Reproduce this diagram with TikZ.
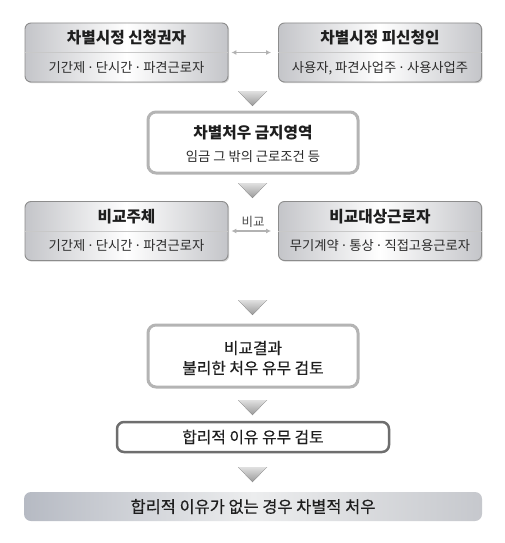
\documentclass[tikz,border=0pt]{standalone}
\usepackage{fontspec}
\setmainfont{Noto Sans CJK KR}
\newfontfamily\medfont{Noto Sans CJK KR}[FakeBold=0.5]
\usetikzlibrary{shadows,arrows.meta}
\newcommand{\mdt}{\hspace{0.12em}·\hspace{0.12em}}
\definecolor{txt}{HTML}{1E1E1E}
\definecolor{subtxt}{HTML}{2A2A2A}
\definecolor{boxline}{HTML}{8C8C8C}
\definecolor{edgegray}{HTML}{C4C5C9}
\definecolor{divline}{HTML}{C8C8C8}
\definecolor{lightframe}{HTML}{B4B4B4}
\definecolor{darkframe}{HTML}{6E6E6E}
\definecolor{arrgray}{HTML}{B2B2B2}
\definecolor{barleft}{HTML}{B6BAC3}
\definecolor{barmid}{HTML}{ECEDEE}
\definecolor{barright}{HTML}{C6C8CD}
\begin{document}
\begin{tikzpicture}[x=1pt,y=-1pt,
  gbox/.style={draw=boxline, line width=0.9pt, rounded corners=6pt,
    left color=edgegray, right color=edgegray, middle color=white,
    minimum width=203pt, minimum height=59pt, inner sep=0pt,
    drop shadow={shadow xshift=1.2pt, shadow yshift=-1.2pt, opacity=0.35}},
  obox/.style={draw=lightframe, line width=3pt, rounded corners=8pt, fill=white,
    minimum width=210pt, inner sep=0pt},
  rbox/.style={draw=darkframe, line width=2.5pt, rounded corners=7pt, fill=white,
    minimum width=272pt, minimum height=30pt, inner sep=0pt},
  bar/.style={rounded corners=7pt, left color=barleft, right color=barright, middle color=barmid,
    minimum width=458pt, minimum height=29pt, inner sep=0pt},
  ttl/.style={text=txt, font=\fontsize{15.7}{18}\selectfont\bfseries, inner sep=0pt},
  sub/.style={text=subtxt, font=\fontsize{13.3}{15}\selectfont, inner sep=0pt},
  big/.style={text=txt, font=\medfont\fontsize{15.8}{20}\selectfont, align=center, inner sep=0pt},
  bigger/.style={text=txt, font=\medfont\fontsize{16.4}{20}\selectfont, inner sep=0pt},
  div/.style={draw=divline, line width=0.8pt},
  darr/.style={draw=arrgray, line width=1.3pt, {Latex[length=5pt,width=5pt]}-{Latex[length=5pt,width=5pt]}, shorten <=3pt, shorten >=7pt},
  tri/.style={top color=black!12, bottom color=black!40, draw=none},
  cmp/.style={text=black!70, font=\fontsize{12.5}{14}\selectfont, inner sep=0pt}
]
\useasboundingbox[fill=white] (0,0) rectangle (504,543);

% row 1
\node[gbox] (a) at (126.5,52.5) {};
\node[gbox] (b) at (380,52.5) {};
\draw[div] (a.west) -- (a.east);
\draw[div] (b.west) -- (b.east);
\node[ttl] (at) at (126.5,38) {차별시정 신청권자};
\node[sub] (as) at (126.5,68) {기간제\mdt 단시간\mdt 파견근로자};
\node[ttl] (bt) at (380,38) {차별시정 피신청인};
\node[sub] (bs) at (380,68) {사용자, 파견사업주\mdt 사용사업주};
\draw[darr] (a.east) -- (b.west);

% triangle 1
\coordinate (t1) at (252.5,91);
\fill[tri] (t1) ++(-14.5,0) -- ++(29,0) -- ++(-14.5,15) -- cycle;

% box 2
\node[obox, minimum height=61pt] (p) at (253,142.5) {};
\node[ttl] (pt) at (253,133) {차별처우 금지영역};
\node[sub] (ps) at (253,157) {임금 그 밖의 근로조건 등};

% triangle 2
\coordinate (t2) at (252.5,183);
\fill[tri] (t2) ++(-14.5,0) -- ++(29,0) -- ++(-14.5,15) -- cycle;

% row 3
\node[gbox] (c) at (126.5,231) {};
\node[gbox] (d) at (380,231) {};
\draw[div] (c.west) -- (c.east);
\draw[div] (d.west) -- (d.east);
\node[ttl] (ct) at (126.5,216.5) {비교주체};
\node[sub] (cs) at (126.5,246) {기간제\mdt 단시간\mdt 파견근로자};
\node[ttl] (dt) at (380,216.5) {비교대상근로자};
\node[sub] (ds) at (380,246) {무기계약\mdt 통상\mdt 직접고용근로자};
\draw[darr] (c.east) -- (d.west);
\node[cmp] (cmpl) at (253,222) {비교};

% triangle 3
\coordinate (t3) at (252.5,300);
\fill[tri] (t3) ++(-14.5,0) -- ++(29,0) -- ++(-14.5,15) -- cycle;

% box 4
\node[obox, minimum height=62pt] (e) at (253,356) {};
\node[big] (et) at (253,358) {비교결과\\불리한 처우 유무 검토};

% triangle 4
\coordinate (t4) at (252.5,400);
\fill[tri] (t4) ++(-14.5,0) -- ++(29,0) -- ++(-14.5,15) -- cycle;

% box 5
\node[rbox] (f) at (253,437) {};
\node[big] (ft) at (253,437) {합리적 이유 유무 검토};

% triangle 5
\coordinate (t5) at (252.5,467);
\fill[tri] (t5) ++(-14.5,0) -- ++(29,0) -- ++(-14.5,15) -- cycle;

% bar
\node[bar] (g) at (253,506.5) {};
\node[bigger] (gt) at (253,506.5) {합리적 이유가 없는 경우 차별적 처우};
\end{tikzpicture}
\end{document}
